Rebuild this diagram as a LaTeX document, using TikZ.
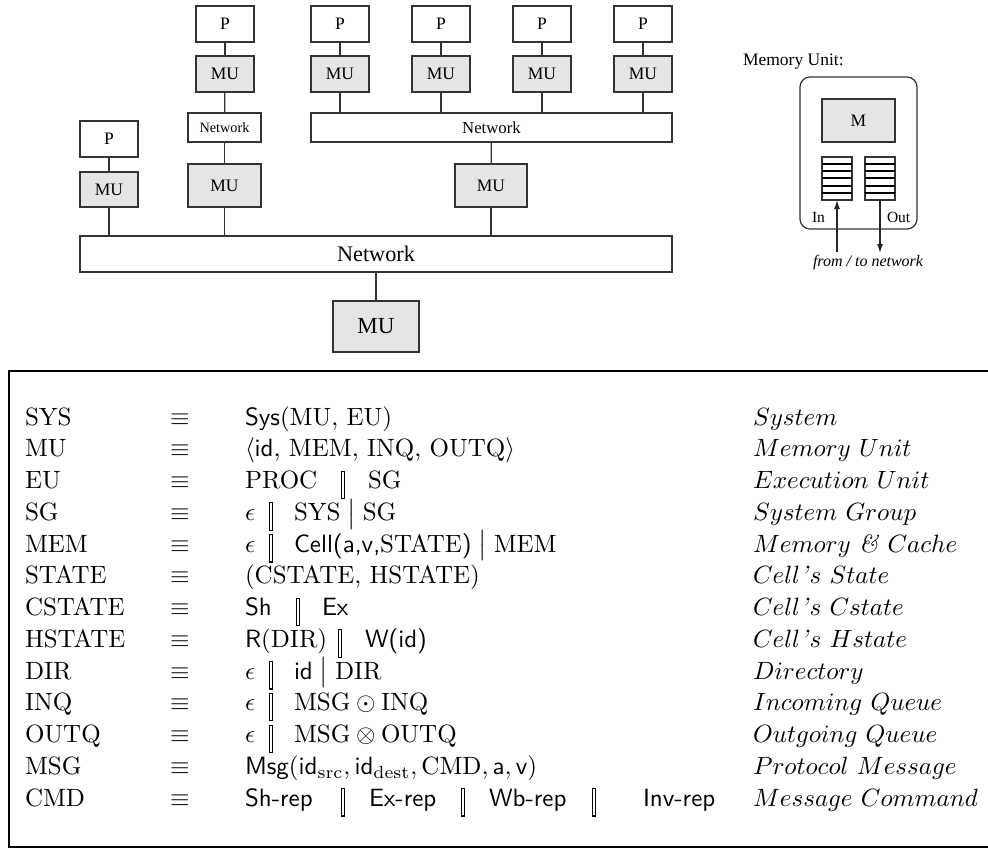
\documentclass[tikz,border=0pt]{standalone}
\usepackage{fontspec}
\newfontfamily\tms{Liberation Serif}
\usetikzlibrary{arrows.meta}
\newcommand{\obar}{\lower4.2pt\hbox{\vrule width.45pt\vbox to 11.4pt{\hrule width .8pt height .45pt\vfil\hrule width .8pt height .45pt}\vrule width.45pt}}
\newcommand{\bbar}{$\;\big|\;$}
\newcommand{\bx}[7]{\node[#2, minimum width={(#5-#3)*0.4pt}, minimum height={(#6-#4)*0.4pt}] (#1) at ({(#3+#5)/2},{(#4+#6)/2}) {#7};}
\begin{document}
\begin{tikzpicture}[x=0.4pt,y=-0.4pt,
  pbox/.style={draw=black!80, line width=0.5pt, fill=white, inner sep=0pt, outer sep=0pt, font=\tms\fontsize{7}{8}\selectfont},
  mubox/.style={pbox, fill=black!10},
  wire/.style={draw=black!80, line width=0.5pt},
  arr/.style={draw=black!85, line width=0.5pt, -{Latex[length=3.6pt,width=2.4pt]}},
  tx/.style={anchor=base west, inner sep=0pt, outer sep=0pt},
  sepn/.style={anchor=base, inner sep=0pt, outer sep=0pt},
  ds/.style={tx}]
\useasboundingbox (0,0) rectangle (988,853);

% ---------- top network diagram ----------
\bx{Pa}{pbox}{80}{121}{138}{157}{P}
\bx{MUa}{mubox}{80}{172}{138}{207}{MU}
\bx{Pb}{pbox}{196}{6}{254}{42}{P}
\bx{MUb}{mubox}{196}{56}{254}{92}{MU}
\bx{NetS}{pbox,font=\tms\fontsize{5.7}{6}\selectfont}{188}{113}{261}{142}{Network}
\bx{MUb2}{mubox}{188}{164}{261}{207}{MU}
\bx{Pc}{pbox}{311}{6}{369}{42}{P}
\bx{MUc}{mubox}{311}{56}{369}{92}{MU}
\bx{Pd}{pbox}{412}{6}{470}{42}{P}
\bx{MUd}{mubox}{412}{56}{470}{92}{MU}
\bx{Pe}{pbox}{513}{6}{571}{42}{P}
\bx{MUe}{mubox}{513}{56}{571}{92}{MU}
\bx{Pf}{pbox}{614}{6}{672}{42}{P}
\bx{MUf}{mubox}{614}{56}{672}{92}{MU}
\bx{NetB}{pbox,font=\tms\fontsize{6.7}{7}\selectfont}{311}{113}{672}{142}{Network}
\bx{MUm}{mubox}{455}{164}{527}{207}{MU}
\bx{NetL}{pbox,font=\tms\fontsize{8.9}{9}\selectfont}{80}{236}{672}{272}{Network}
\bx{MUbot}{mubox,font=\tms\fontsize{9.2}{10}\selectfont}{333}{301}{419}{352}{MU}

\draw[wire] (Pa) -- (MUa);
\draw[wire] (MUa.south) -- (MUa.south |- NetL.north);
\draw[wire] (Pb) -- (MUb);
\draw[wire] (MUb) -- (NetS);
\draw[wire] (NetS) -- (MUb2);
\draw[wire] (MUb2.south) -- (MUb2.south |- NetL.north);
\foreach \c in {c,d,e,f}{
  \draw[wire] (P\c) -- (MU\c);
  \draw[wire] (MU\c.south) -- (MU\c.south |- NetB.north);
}
\draw[wire] (NetB) -- (MUm);
\draw[wire] (MUm.south) -- (MUm.south |- NetL.north);
\draw[wire] (NetL.south) -- (MUbot.north);

% ---------- memory unit inset ----------
\node[tx, font=\tms\fontsize{7}{8}\selectfont] (mutitle) at (743,65) {Memory Unit:};
\bx{MUout}{pbox,rounded corners=4pt}{800}{77}{917}{229}{}
\bx{Mbox}{mubox}{822}{99}{895}{142}{M}
\bx{QIn}{pbox}{822}{157}{852}{200}{}
\bx{QOut}{pbox}{865}{157}{895}{200}{}
\foreach \yy in {164,171,178,186,193}{
  \draw[line width=0.8pt] (822,\yy) -- (852,\yy);
  \draw[line width=0.8pt] (865,\yy) -- (895,\yy);
}
\node[tx, font=\tms\fontsize{6.2}{7}\selectfont] (inlab) at (812,222) {In};
\node[tx, font=\tms\fontsize{6.2}{7}\selectfont] (outlab) at (887,222) {Out};
\coordinate (inS) at (837,252);
\coordinate (outE) at (880,253);
\draw[arr] (inS) -- (QIn.south);
\draw[arr] (QOut.south) -- (outE);
\node[tx, font=\tms\itshape\fontsize{6.4}{7}\selectfont] (fromto) at (813,266) {from / to network};

% ---------- definitions table ----------
\draw[line width=1.1pt] (990,371) -- (9,371) -- (9,847) -- (990,847);

% left column
\node[tx] (l0) at (25,{425+31.75*0}) {SYS};
\node[tx] (l1) at (25,{425+31.75*1}) {MU};
\node[tx] (l2) at (25,{425+31.75*2}) {EU};
\node[tx] (l3) at (25,{425+31.75*3}) {SG};
\node[tx] (l4) at (25,{425+31.75*4}) {MEM};
\node[tx] (l5) at (25,{425+31.75*5}) {STATE};
\node[tx] (l6) at (25,{425+31.75*6}) {CSTATE};
\node[tx] (l7) at (25,{425+31.75*7}) {HSTATE};
\node[tx] (l8) at (25,{425+31.75*8}) {DIR};
\node[tx] (l9) at (25,{425+31.75*9}) {INQ};
\node[tx] (l10) at (25,{425+31.75*10}) {OUTQ};
\node[tx] (l11) at (25,{425+31.75*11}) {MSG};
\node[tx] (l12) at (25,{425+31.75*12}) {CMD};
% equivalence column
\foreach \i in {0,...,12}{
  \node[tx] (e\i) at (170,{425+31.75*\i}) {$\equiv$};
}
% right-hand sides
\node[tx] (r0) at (245,{425+31.75*0}) {\textsf{Sys}(MU, EU)};
\node[tx] (r1) at (245,{425+31.75*1}) {$\langle$\textsf{id}, MEM, INQ, OUTQ$\rangle$};
\node[tx] (r2a) at (245,{425+31.75*2}) {PROC};
\node[sepn] (r2b) at (343,{425+31.75*2}) {\obar};
\node[tx] (r2c) at (368,{425+31.75*2}) {SG};
\node[tx] (r3a) at (245,{425+31.75*3}) {$\epsilon$};
\node[sepn] (r3b) at (271,{425+31.75*3}) {\obar};
\node[tx] (r3c) at (294,{425+31.75*3}) {SYS\bbar SG};
\node[tx] (r4a) at (245,{425+31.75*4}) {$\epsilon$};
\node[sepn] (r4b) at (271,{425+31.75*4}) {\obar};
\node[tx] (r4c) at (294,{425+31.75*4}) {\textsf{Cell(a,v,}STATE\textsf{)}\bbar MEM};
\node[tx] (r5) at (245,{425+31.75*5}) {(CSTATE, HSTATE)};
\node[tx] (r6a) at (245,{425+31.75*6}) {\textsf{Sh}};
\node[sepn] (r6b) at (298,{425+31.75*6}) {\obar};
\node[tx] (r6c) at (322,{425+31.75*6}) {\textsf{Ex}};
\node[tx] (r7a) at (245,{425+31.75*7}) {\textsf{R}(DIR)};
\node[sepn] (r7b) at (340,{425+31.75*7}) {\obar};
\node[tx] (r7c) at (365,{425+31.75*7}) {\textsf{W(id)}};
\node[tx] (r8a) at (245,{425+31.75*8}) {$\epsilon$};
\node[sepn] (r8b) at (271,{425+31.75*8}) {\obar};
\node[tx] (r8c) at (294,{425+31.75*8}) {\textsf{id}\bbar DIR};
\node[tx] (r9a) at (245,{425+31.75*9}) {$\epsilon$};
\node[sepn] (r9b) at (271,{425+31.75*9}) {\obar};
\node[tx] (r9c) at (294,{425+31.75*9}) {$\mathrm{MSG}\odot\mathrm{INQ}$};
\node[tx] (r10a) at (245,{425+31.75*10}) {$\epsilon$};
\node[sepn] (r10b) at (271,{425+31.75*10}) {\obar};
\node[tx] (r10c) at (294,{425+31.75*10}) {$\mathrm{MSG}\otimes\mathrm{OUTQ}$};
\node[tx] (r11) at (245,{425+31.75*11}) {$\textsf{Msg}(\textsf{id}_{\mathrm{src}},\textsf{id}_{\mathrm{dest}},\mathrm{CMD},\textsf{a},\textsf{v})$};
\node[tx] (r12a) at (245,{425+31.75*12}) {\textsf{Sh-rep}};
\node[sepn] (r12b) at (343,{425+31.75*12}) {\obar};
\node[tx] (r12c) at (369,{425+31.75*12}) {\textsf{Ex-rep}};
\node[sepn] (r12d) at (463,{425+31.75*12}) {\obar};
\node[tx] (r12e) at (489,{425+31.75*12}) {\textsf{Wb-rep}};
\node[sepn] (r12f) at (594,{425+31.75*12}) {\obar};
\node[tx] (r12g) at (643,{425+31.75*12}) {\textsf{Inv-rep}};
% descriptions
\node[ds] (d0) at (753,{425+31.75*0}) {$System$};
\node[ds] (d1) at (753,{425+31.75*1}) {$Memory\ Unit$};
\node[ds] (d2) at (753,{425+31.75*2}) {$Execution\ Unit$};
\node[ds] (d3) at (753,{425+31.75*3}) {$System\ Group$};
\node[ds] (d4) at (753,{425+31.75*4}) {$Memory\ \mbox{\textit{\&}}\ Cache$};
\node[ds] (d5) at (753,{425+31.75*5}) {$Cell\mbox{\textit{'}}s\ State$};
\node[ds] (d6) at (753,{425+31.75*6}) {$Cell\mbox{\textit{'}}s\ Cstate$};
\node[ds] (d7) at (753,{425+31.75*7}) {$Cell\mbox{\textit{'}}s\ Hstate$};
\node[ds] (d8) at (753,{425+31.75*8}) {$Directory$};
\node[ds] (d9) at (753,{425+31.75*9}) {$Incoming\ Queue$};
\node[ds] (d10) at (753,{425+31.75*10}) {$Outgoing\ Queue$};
\node[ds] (d11) at (753,{425+31.75*11}) {$Protocol\ Message$};
\node[ds] (d12) at (753,{425+31.75*12}) {$Message\ Command$};
\end{tikzpicture}
\end{document}
